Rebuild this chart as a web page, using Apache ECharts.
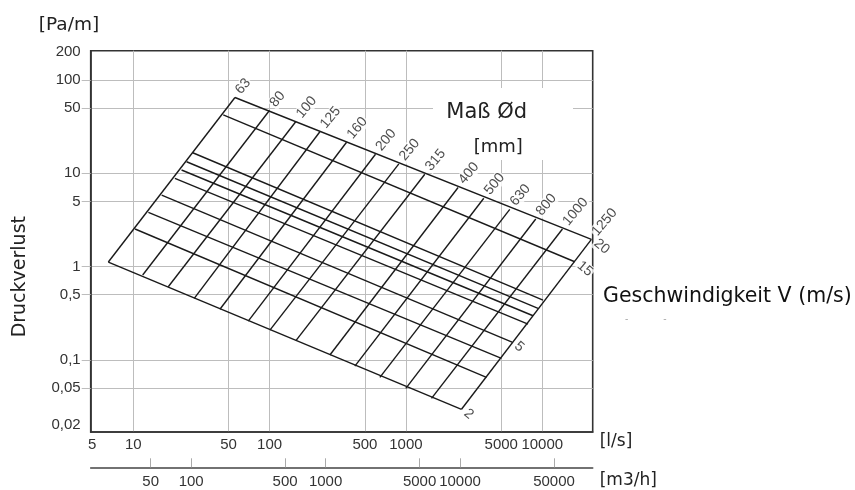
<!DOCTYPE html>
<html><head><meta charset="utf-8">
<script src="https://cdn.jsdelivr.net/npm/echarts@6/dist/echarts.min.js"></script>
<style>html,body{margin:0;padding:0;background:#fff}#c{width:855px;height:490px}</style>
</head><body><div id="c"></div>
<script>
// Nominal duct diameters [mm]
const diameters = [63, 80, 100, 125, 160, 200, 250, 315, 400, 500, 630, 800, 1000, 1250];
// end of each diameter line on the 20 m/s edge: flow [l/s], pressure loss [Pa/m]
const dTopFlow = [55.7, 99.7, 155.9, 233.7, 366.7, 598, 887, 1375, 2413, 3724, 5775, 8957, 14060, 22930];
const dTopLoss = [64.9, 47.1, 35.9, 27.9, 21.5, 16.0, 12.6, 9.78, 7.04, 5.40, 4.11, 3.24, 2.53, 1.96];
// end of each diameter line on the 2 m/s edge
const dBottomFlow = [6.56, 11.72, 18.05, 28.0, 43.2, 69.7, 100.5, 155.9, 276.7, 422, 643.7, 998, 1540, 2556];
const dBottomLoss = [1.12, 0.813, 0.609, 0.457, 0.349, 0.261, 0.209, 0.161, 0.113, 0.086, 0.0651, 0.0496, 0.0388, 0.0296];
// Velocity lines [m/s]
const velocities = [20, 15, 9, 8, 7, 6, 5, 4, 3, 2];
const labeledVelocities = [20, 15, 5, 2];
// end of each velocity line on the 63 mm edge
const vLeftFlow = [55.7, 45.7, 27.3, 24.6, 22.6, 20.2, 16.15, 12.9, 10.3, 6.56];
const vLeftLoss = [64.9, 42.2, 16.6, 13.3, 10.85, 8.84, 5.85, 3.82, 2.53, 1.12];
// end of each velocity line on the 1250 mm edge
const vRightFlow = [22930, 17300, 10130, 9314, 8560, 7866, 6004, 5022, 3898, 2556];
const vRightLoss = [1.96, 1.128, 0.4385, 0.3573, 0.2977, 0.2426, 0.1555, 0.1041, 0.0651, 0.0296];
// Tick labels
const yTickLabels = [0.02, 0.05, 0.1, 0.5, 1, 5, 10, 50, 100, 200];
const yGridValues = [0.05, 0.1, 0.5, 1, 5, 10, 50, 100];
const xTickLabels = [5, 10, 50, 100, 500, 1000, 5000, 10000];
const xGridValues = [10, 50, 100, 500, 1000, 5000, 10000];
const x2TickLabels = [50, 100, 500, 1000, 5000, 10000, 50000];

const chart = echarts.init(document.getElementById('c'), null, {renderer: 'canvas'});
const MESH = '#1a1a1a', GRIDC = '#bdbdbd', AXC = '#333';
const numFont = 'Liberation Sans';
const txtFont = 'DejaVu Sans';

const series = [];
diameters.forEach((d, i) => series.push({
  type: 'line', name: d + ' mm', symbol: 'none', silent: true, z: 3,
  data: [[dBottomFlow[i], dBottomLoss[i]], [dTopFlow[i], dTopLoss[i]]],
  lineStyle: {color: MESH, width: 1.4}
}));
velocities.forEach((v, i) => series.push({
  type: 'line', name: v + ' m/s', symbol: 'none', silent: true, z: 3,
  data: [[vLeftFlow[i], vLeftLoss[i]], [vRightFlow[i], vRightLoss[i]]],
  lineStyle: {color: MESH, width: 1.4}
}));
series.push({
  type: 'scatter', name: 'diameter labels', symbolSize: 1, silent: true, z: 5,
  itemStyle: {color: 'rgba(0,0,0,0)'},
  data: diameters.map((d, i) => ({name: String(d), value: [dTopFlow[i], dTopLoss[i]]})),
  label: {show: true, formatter: '{b}', position: [3, -4], rotate: 50, align: 'left', verticalAlign: 'middle',
    fontFamily: numFont, fontSize: 14, color: '#222', backgroundColor: '#fff', padding: [0, 1]}
});
series.push({
  type: 'scatter', name: 'velocity labels', symbolSize: 1, silent: true, z: 5,
  itemStyle: {color: 'rgba(0,0,0,0)'},
  data: labeledVelocities.map(v => {
    const i = velocities.indexOf(v);
    return {name: String(v), value: [vRightFlow[i], vRightLoss[i]]};
  }),
  label: {show: true, formatter: '{b}', position: [4, 2], rotate: -40, align: 'left', verticalAlign: 'middle',
    fontFamily: numFont, fontSize: 14, color: '#222', backgroundColor: '#fff', padding: [0, 1]}
});

const fmt = v => String(+(+v).toPrecision(6)).replace('.', ',');

chart.setOption({
  animation: false,
  textStyle: {fontFamily: numFont},
  grid: {left: 90.7, right: 262.3, top: 50.7, bottom: 58, show: true, borderColor: AXC, borderWidth: 1.6,
    backgroundColor: 'rgba(0,0,0,0)', containLabel: false, outerBoundsMode: 'none'},
  xAxis: [{
    type: 'log', min: 4.87, max: 23440, position: 'bottom',
    axisLine: {show: true, lineStyle: {color: AXC, width: 1.6}},
    axisTick: {show: false, customValues: xGridValues},
    axisLabel: {customValues: xTickLabels, formatter: fmt, color: '#333', fontSize: 15, margin: 5},
    splitLine: {show: true, lineStyle: {color: GRIDC, width: 1}},
    name: '[l/s]', nameLocation: 'end', nameGap: 7,
    nameTextStyle: {fontFamily: txtFont, fontSize: 17, color: '#222', verticalAlign: 'top', padding: [1, 0, 0, 0]}
  }, {
    type: 'log', min: 17.9, max: 97000, position: 'bottom', offset: 35.3,
    axisLine: {show: true, lineStyle: {color: '#444', width: 1.6}},
    axisTick: {show: true, inside: true, length: 9, customValues: x2TickLabels, lineStyle: {color: '#aaa', width: 1}},
    axisLabel: {customValues: x2TickLabels, formatter: fmt, color: '#333', fontSize: 15, margin: 7},
    splitLine: {show: false},
    name: '[m3/h]', nameLocation: 'end', nameGap: 7,
    nameTextStyle: {fontFamily: txtFont, fontSize: 17, color: '#222', verticalAlign: 'top', padding: [5, 0, 0, 0]}
  }],
  yAxis: {
    type: 'log', min: 0.0169, max: 206,
    axisLine: {show: true, lineStyle: {color: AXC, width: 1.6}},
    axisTick: {show: true, inside: false, length: 9, customValues: yGridValues, lineStyle: {color: GRIDC, width: 1}},
    axisLabel: {customValues: yTickLabels, formatter: fmt, color: '#333', fontSize: 15, margin: 10},
    splitLine: {show: true, lineStyle: {color: GRIDC, width: 1}}
  },
  graphic: [
    {type: 'rect', z: 1, shape: {x: 433, y: 88, width: 140, height: 44}, style: {fill: '#fff'}, silent: true},
    {type: 'rect', z: 1, shape: {x: 465, y: 132, width: 83, height: 28}, style: {fill: '#fff'}, silent: true},
    {type: 'text', z: 101, x: 486.7, y: 112.7, style: {text: 'Maß Ød', fontFamily: txtFont, fontSize: 21, fill: '#222', align: 'center', verticalAlign: 'middle'}},
    {type: 'text', z: 101, x: 498.3, y: 147.3, style: {text: '[mm]', fontFamily: txtFont, fontSize: 18, fill: '#222', align: 'center', verticalAlign: 'middle'}},
    {type: 'text', z: 101, x: 603, y: 297, style: {text: 'Geschwindigkeit V (m/s)', fontFamily: txtFont, fontSize: 20.5, fill: '#111', align: 'left', verticalAlign: 'middle'}},
    {type: 'text', z: 101, x: 626.7, y: 319, style: {text: '-', fontFamily: numFont, fontSize: 10, fill: '#aaa', align: 'center', verticalAlign: 'middle'}},
    {type: 'text', z: 101, x: 665, y: 319, style: {text: '-', fontFamily: numFont, fontSize: 10, fill: '#aaa', align: 'center', verticalAlign: 'middle'}},
    {type: 'text', z: 101, x: 69, y: 25, style: {text: '[Pa/m]', fontFamily: txtFont, fontSize: 18.5, fill: '#222', align: 'center', verticalAlign: 'middle'}},
    {type: 'text', z: 101, x: 20, y: 276.7, rotation: Math.PI / 2, style: {text: 'Druckverlust', fontFamily: txtFont, fontSize: 19, fill: '#222', align: 'center', verticalAlign: 'middle'}}
  ],
  series: series
});
</script></body></html>
